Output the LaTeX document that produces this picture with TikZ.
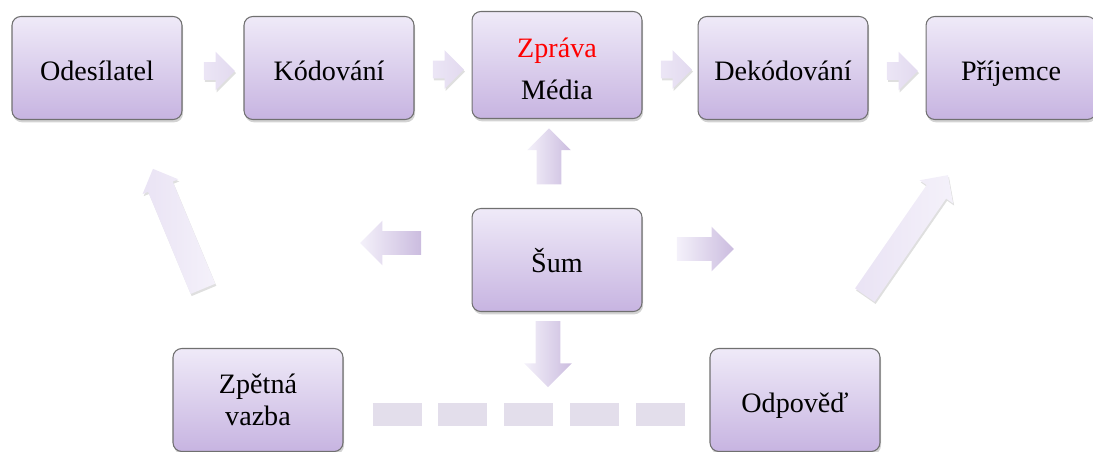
\documentclass[tikz,border=0pt]{standalone}
\usepackage{fontspec}
\setmainfont{Liberation Serif}
\usepackage{xcolor}
\usetikzlibrary{shapes.arrows, shadows, positioning, calc}

\definecolor{boxtop}{HTML}{EFEAF8}
\definecolor{boxbot}{HTML}{C7B4E1}
\definecolor{boxline}{HTML}{707070}
\definecolor{flowdark}{HTML}{CBBCDF}
\definecolor{flowlight}{HTML}{F4F1FA}
\definecolor{dashfill}{HTML}{E3DEEB}

\begin{document}
\begin{tikzpicture}[
    x=0.02cm, y=-0.02cm,
    box/.style={rectangle, rounded corners=5pt, draw=boxline, line width=0.6pt,
        top color=boxtop, bottom color=boxbot, minimum width=3.4cm, minimum height=2.06cm,
        font=\fontsize{16}{18}\selectfont,
        drop shadow={shadow xshift=0.6pt, shadow yshift=-1.6pt, opacity=0.35}},
    oneline/.style={text height=14pt, text depth=0pt},
    flow/.style={single arrow, draw=none, inner xsep=0pt, shape border rotate=0},
    flowtop/.style={flow, minimum height=0.62cm, inner ysep=0.17cm, single arrow head extend=0.21cm,
        left color=boxtop!90!flowdark, right color=boxtop!65!flowdark,
        drop shadow={shadow xshift=0.6pt, shadow yshift=-1.2pt, opacity=0.25}},
    feedline/.style={draw=dashfill, line width=0.46cm, dash pattern=on 0.98cm off 0.34cm}
]
    \useasboundingbox (0,0) rectangle (1093,452);

    % Main chain
    \node[box, oneline] (sender) at (97,68) {Odesílatel};
    \node[box, oneline, right=1.22cm of sender] (coder) {Kódování};
    \node[box, align=center, right=1.14cm of coder, yshift=0.06cm, minimum height=2.14cm] (msg)
        {\rule{0pt}{16pt}\textcolor{red}{Zpráva}\\[6pt]Média};
    \node[box, oneline, right=1.1cm of msg, yshift=-0.06cm] (decoder) {Dekódování};
    \node[box, oneline, right=1.14cm of decoder] (receiver) {Příjemce};

    % Noise and feedback
    \node[box, oneline, below=1.78cm of msg] (noise) {Šum};
    \node[box, align=center] (feedback) at (258,400) {Zpětná\\vazba};
    \node[box, oneline] (reply) at (795,400) {Odpověď};

    % Block arrows along the chain
    \node[flowtop] (f1) at ($(sender.east)!0.5!(coder.west)+(2,3)$) {};
    \node[flowtop] (f2) at ($(coder.east)!0.5!(msg.west)+(1,3)$) {};
    \node[flowtop] (f3) at ($(msg.east)!0.5!(decoder.west)+(2,3)$) {};
    \node[flowtop] (f4) at ($(decoder.east)!0.5!(receiver.west)+(1,3)$) {};

    % Noise arrows
    \node[flow, rotate=90, minimum height=1.12cm, inner ysep=0.24cm, single arrow head extend=0.19cm,
        left color=flowlight, right color=flowdark] (nup) at ($(noise.north)!0.5!(msg.south)+(-8,-1)$) {};
    \node[flow, rotate=-90, minimum height=1.32cm, inner ysep=0.24cm, single arrow head extend=0.23cm,
        left color=flowlight, right color=flowdark] (ndown) at ($(noise.south)+(-9,36)$) {};
    \node[flow, rotate=180, minimum height=1.22cm, inner ysep=0.23cm, single arrow head extend=0.21cm,
        left color=flowlight, right color=flowdark] (nleft) at ($(noise.west)+(-75,-17)$) {};
    \node[flow, minimum height=1.14cm, inner ysep=0.23cm, single arrow head extend=0.21cm,
        left color=flowlight, right color=flowdark] (nright) at ($(noise.east)+(57,-11)$) {};

    % Return arrows
    \node[flow, rotate=112.6, minimum height=2.6cm, inner ysep=0.26cm, single arrow head extend=0.12cm,
        left color=boxtop!85!flowdark, right color=flowlight,
        drop shadow={shadow xshift=0.6pt, shadow yshift=-1.2pt, opacity=0.25}] (back)
        at ($(feedback.north)!0.5!(sender.south)+(3,1)$) {};
    \node[flow, rotate=55.3, minimum height=2.92cm, inner ysep=0.23cm, single arrow head extend=0.17cm,
        left color=boxtop!85!flowdark, right color=flowlight,
        drop shadow={shadow xshift=0.6pt, shadow yshift=-1.2pt, opacity=0.25}] (fwd)
        at ($(reply.north)!0.5!(receiver.south)+(0,6)$) {};

    % Feedback link
    \draw[feedline] ($(feedback.east)+(29,15)$) -- ($(reply.west)+(-23,15)$);
\end{tikzpicture}
\end{document}
